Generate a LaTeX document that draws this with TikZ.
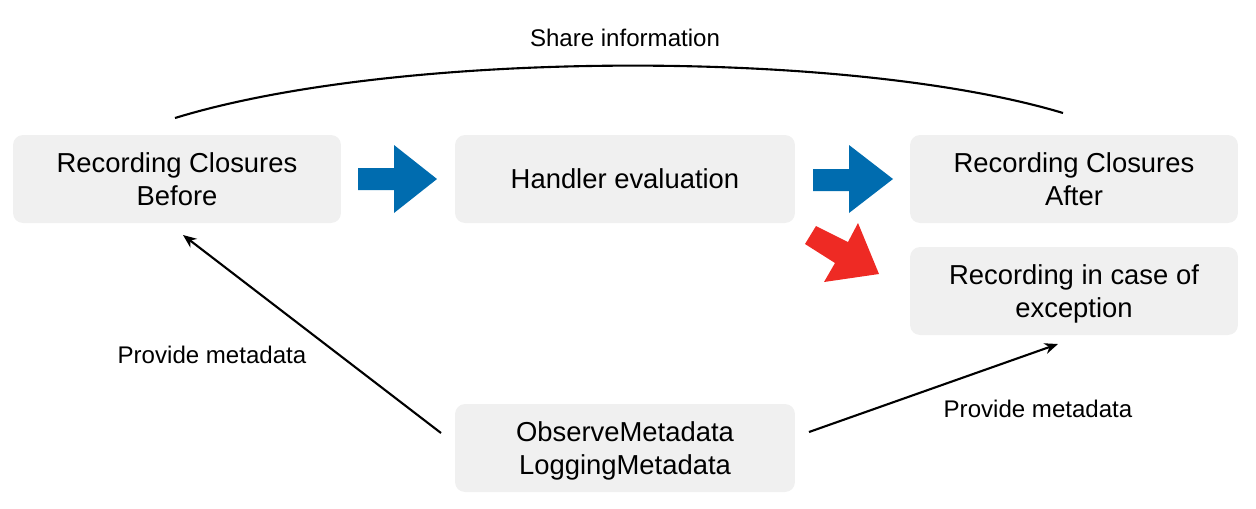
\documentclass[tikz,border=0pt]{standalone}
\usepackage{fontspec}
\setmainfont{Liberation Sans}
\usepackage{tikz}
\usetikzlibrary{arrows.meta}
\definecolor{boxgray}{RGB}{240,240,240}
\definecolor{flowblue}{RGB}{0,108,175}
\definecolor{errred}{RGB}{238,42,36}

\begin{document}
\begin{tikzpicture}[x=0.02cm, y=-0.02cm,
  stagebox/.style={fill=boxgray, rounded corners=0.2cm, minimum height=1.76cm, align=center, inner sep=0pt, text depth=0pt, font=\fontsize{15.6}{18.8}\selectfont},
  narrowbox/.style={stagebox, minimum width=6.56cm},
  widebox/.style={stagebox, minimum width=6.8cm},
  lbl/.style={font=\fontsize{13.7}{16}\selectfont, inner sep=0pt},
  feed/.style={line width=1.2pt, -{Stealth[length=0.27cm, width=0.22cm]}}]
\useasboundingbox (0,0) rectangle (1256,508);

\node[narrowbox] (before) at (177,179) {Recording Closures\\Before};
\node[widebox] (handler) at (625,179) {Handler evaluation};
\node[narrowbox] (after) at (1074,179) {Recording Closures\\After};
\node[narrowbox] (except) at (1074,291) {Recording in case of\\exception};
\node[widebox] (meta) at (625,448) {ObserveMetadata\\LoggingMetadata};

% flow arrows
\fill[flowblue] (358,168) -- (394,168) -- (394,145) -- (437,179) -- (394,213) -- (394,190) -- (358,190) -- cycle;
\fill[flowblue] (813,169) -- (849,169) -- (849,145) -- (893,179) -- (849,213) -- (849,191) -- (813,191) -- cycle;
\fill[errred] (816,226) -- (848,242) -- (858,223) -- (879,274) -- (824,282) -- (835,263) -- (805,244) -- cycle;

% shared information
\coordinate (shareL) at (175,118);
\coordinate (shareR) at (1063,113);
\draw[line width=1.2pt] (shareL) .. controls (400,49) and (850,49) .. (shareR);
\node[lbl] (sharelbl) at (625,38) {Share information};

% metadata
\coordinate (metaL) at (441,433);
\coordinate (beforeIn) at (183,235);
\coordinate (metaR) at (809,432);
\coordinate (exceptIn) at (1058,344);
\draw[feed] (metaL) -- (beforeIn);
\draw[feed] (metaR) -- (exceptIn);
\node[lbl] (leftlbl) at (212,355) {Provide metadata};
\node[lbl] (rightlbl) at (1038,409) {Provide metadata};
\end{tikzpicture}
\end{document}
